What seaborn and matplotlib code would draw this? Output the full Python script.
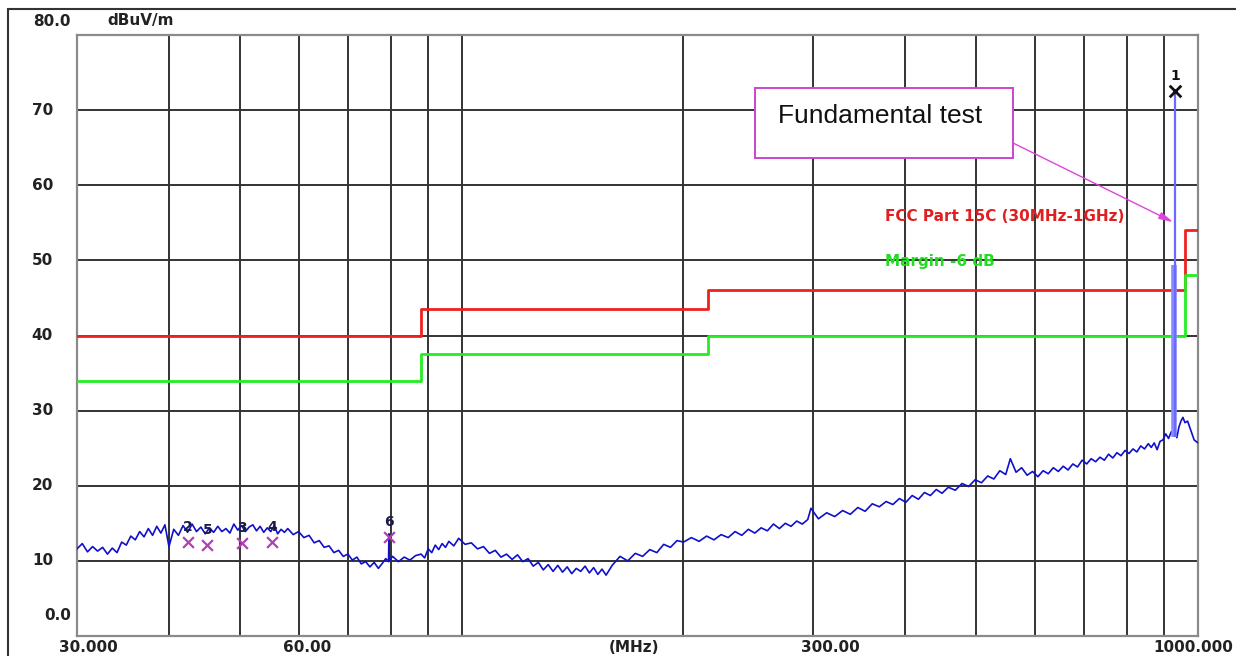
import matplotlib
matplotlib.use("Agg")
import matplotlib.pyplot as plt
import matplotlib.transforms as mtransforms
from matplotlib.patches import Rectangle
import seaborn as sns

# Scan trace (MHz / dBuV/m)
trace_freq = [
    30.0, 30.5, 31.0, 31.5, 32.0, 32.5, 33.0, 33.5, 34.0, 34.5,
    35.0, 35.5, 36.0, 36.5, 37.0, 37.5, 38.0, 38.5, 39.0, 39.5,
    40.0, 40.6, 41.2, 41.8, 42.4, 43.0, 43.6, 44.2, 44.8, 45.4,
    46.0, 46.6, 47.2, 47.8, 48.4, 49.0, 49.6, 50.2, 50.8, 51.4,
    52.0, 52.6, 53.2, 53.8, 54.4, 55.0, 55.6, 56.2, 56.8, 57.4,
    58, 59, 60, 61, 62, 63, 64, 65, 66, 67,
    68, 69, 70, 71, 72, 73, 74, 75, 76, 77,
    78, 78.8, 79.5, 79.6, 79.7, 80.5, 82, 83.5, 85, 86.5,
    88, 89, 90, 91, 92, 93, 94, 95, 96, 97.5,
    99, 101, 103, 105, 107, 109, 111, 113, 115, 117,
    119, 121, 123, 125, 127, 129, 131, 133, 135, 137,
    139, 141, 143, 145, 147, 149, 151, 153, 155, 157,
    160, 164, 168, 172, 176, 180, 184, 188, 192, 196,
    200, 205, 210, 215, 220, 225, 230, 235, 240, 245,
    250, 255, 260, 265, 270, 275, 280, 285, 290, 295,
    298, 305, 313, 321, 329, 337, 345, 353, 361, 369,
    377, 385, 393, 401, 409, 417, 425, 433, 441, 449,
    458, 468, 478, 488, 498, 508, 518, 528, 538, 548,
    556, 566, 576, 586, 596, 606, 616, 626, 636, 646,
    656, 666, 676, 686, 696, 706, 716, 726, 736, 746,
    756, 766, 776, 786, 796, 806, 816, 826, 836, 846,
    856, 864, 872, 880, 888, 896, 904, 912, 920, 926,
    930, 936, 942, 948, 954, 960, 968, 976, 988, 1000,
]
trace_level = [
    11.6, 12.3, 11.2, 11.9, 11.3, 11.8, 10.9, 11.7, 11.1, 12.5,
    12.1, 13.3, 12.8, 13.9, 13.2, 14.3, 13.4, 14.6, 13.7, 14.8,
    11.9, 14.2, 13.4, 14.7, 13.8, 14.9, 13.9, 14.5, 13.6, 14.4,
    13.8, 14.6, 13.9, 14.3, 13.7, 14.9, 14.1, 14.7, 13.9, 14.5,
    14.8, 14.0, 14.6, 13.8, 14.4, 13.9, 14.7, 13.6, 14.2, 13.8,
    14.3, 13.5, 13.9, 13.1, 13.4, 12.4, 12.7, 11.8, 12.0, 11.1,
    11.4, 10.6, 10.9, 10.1, 10.5, 9.6, 9.9, 9.2, 9.8, 9.0,
    9.7, 10.3, 9.9, 13.6, 10.0, 10.6, 9.9, 10.5, 10.1, 10.7,
    10.9, 10.4, 11.6, 11.1, 12.1, 11.5, 12.3, 11.8, 12.6, 12.0,
    13.0, 12.2, 12.4, 11.6, 11.9, 11.0, 11.4, 10.5, 10.9, 10.2,
    10.8, 9.9, 10.3, 9.3, 9.8, 8.8, 9.5, 8.6, 9.4, 8.5,
    9.2, 8.3, 9.0, 8.6, 9.3, 8.4, 9.1, 8.2, 8.9, 8.1,
    9.4, 10.6, 10.0, 11.0, 10.6, 11.5, 11.1, 12.2, 11.8, 12.7,
    12.5, 13.1, 12.6, 13.3, 12.8, 13.5, 13.1, 13.9, 13.4, 14.2,
    13.7, 14.4, 14.0, 14.9, 14.3, 15.0, 14.6, 15.3, 14.9, 15.5,
    17.0, 15.6, 16.4, 15.9, 16.7, 16.2, 17.1, 16.6, 17.6, 17.2,
    17.9, 17.5, 18.3, 17.8, 18.7, 18.2, 19.1, 18.7, 19.5, 19.0,
    19.8, 19.4, 20.3, 19.9, 20.8, 20.4, 21.3, 20.9, 22.0, 21.5,
    23.6, 21.8, 22.4, 21.4, 21.9, 21.2, 22.0, 21.6, 22.4, 21.9,
    22.6, 22.1, 22.9, 22.5, 23.4, 22.9, 23.6, 23.2, 23.8, 23.4,
    24.2, 23.7, 24.4, 24.0, 24.7, 24.3, 24.9, 24.5, 25.3, 24.9,
    25.6, 25.1, 25.7, 24.8, 25.9, 26.1, 26.9, 26.3, 27.2, 26.8,
    27.3, 26.4, 27.8, 28.6, 29.1, 28.4, 28.6, 27.6, 26.1, 25.7,
]

# FCC Part 15C limit and the -6 dB margin line
limit_freq = [30, 88, 216, 960, 1000]
limit_level = [40, 43.5, 46, 54, 54]
margin_level = [34, 37.5, 40, 48, 48]

# fundamental carrier
peak_freq = 931
peak_level = 72.5
peak_band_top = 49.4
peak_floor = 26.5

# marked spurious points
marker_ids = ["2", "5", "3", "4", "6"]
marker_freq = [42.4, 45.1, 50.3, 55.2, 79.7]
marker_level = [12.5, 12.1, 12.4, 12.5, 13.2]

y_ticks = [0, 10, 20, 30, 40, 50, 60, 70, 80]
y_tick_labels = ["0.0", "10", "20", "30", "40", "50", "60", "70", "80.0"]
x_ticks = [30, 60, 300, 1000]
x_tick_labels = ["30.000", "60.00", "300.00", "1000.000"]
grid_freq = [30, 40, 50, 60, 70, 80, 90, 100, 200, 300, 400, 500, 600, 700, 800, 900, 1000]

sns.set_theme(style="white")
plt.rcParams["font.family"] = ["DejaVu Sans"]

W, H = 1236, 656
fig = plt.figure(figsize=(W / 100, H / 100), dpi=100)
fig.patch.set_facecolor("white")
ax = fig.add_axes([77 / W, 20 / H, 1121 / W, 601 / H])
ax.set_xscale("log")
ax.set_xlim(30, 1000)
ax.set_ylim(0, 80)
ax.xaxis.set_major_locator(matplotlib.ticker.NullLocator())
ax.xaxis.set_minor_locator(matplotlib.ticker.NullLocator())
ax.yaxis.set_major_locator(matplotlib.ticker.NullLocator())
for s in ax.spines.values():
    s.set_color("#8a8a8a")
    s.set_linewidth(1.6)

# grid
ax.vlines(grid_freq[1:-1], 0, 80, color="#333333", lw=1.4, zorder=1)
ax.hlines(y_ticks[1:-1], 30, 1000, color="#333333", lw=1.4, zorder=1)

# limit lines
sns.lineplot(x=limit_freq, y=limit_level, ax=ax, color="#ee2020", lw=2.0,
             drawstyle="steps-post", sort=False, estimator=None, zorder=3)
sns.lineplot(x=limit_freq, y=margin_level, ax=ax, color="#22ee22", lw=2.0,
             drawstyle="steps-post", sort=False, estimator=None, zorder=3)

# trace
sns.lineplot(x=trace_freq, y=trace_level, ax=ax, color="#1010cc", lw=1.2,
             sort=False, estimator=None, zorder=4)

# fundamental spike
ax.vlines(peak_freq - 2, peak_floor, peak_band_top, color="#8a8aff", lw=4, zorder=4)
ax.vlines(peak_freq, peak_floor, peak_level, color="#6a6aff", lw=1.6, zorder=5)

# markers
sns.scatterplot(x=marker_freq, y=marker_level, ax=ax, marker="x", color="#b040b0",
                s=60, linewidth=1.6, zorder=6)
for mid, f, lv in zip(marker_ids, marker_freq, marker_level):
    ax.annotate(mid, (f, lv), xytext=(0, 6), textcoords="offset points", ha="center",
                va="bottom", fontsize=10, fontweight="bold", color="#1a1a4a", zorder=7)
sns.scatterplot(x=[peak_freq], y=[peak_level], ax=ax, marker="x", color="#111111",
                s=70, linewidth=2, zorder=6)
ax.annotate("1", (peak_freq, peak_level), xytext=(0, 6), textcoords="offset points",
            ha="center", va="bottom", fontsize=10, fontweight="bold", color="#111111")

# limit labels
ax.text(376, 55.8, "FCC Part 15C (30MHz-1GHz)", color="#e02020", fontsize=11,
        fontweight="bold", ha="left", va="center")
ax.text(376, 49.8, "Margin -6 dB", color="#22dd22", fontsize=11,
        fontweight="bold", ha="left", va="center")

# axis labels drawn as text
ytrans = mtransforms.blended_transform_factory(ax.transAxes, ax.transData)
for v, lab in zip(y_ticks, y_tick_labels):
    if lab in ("0.0", "80.0"):
        dx, dy = -6, (20 if v == 0 else 13)
    else:
        dx, dy = -24, 0
    ax.text(0, v, lab, transform=mtransforms.offset_copy(ytrans, fig=fig, x=dx, y=dy, units="dots"),
            ha="right", va="center", fontsize=11, fontweight="bold", color="#222222")

xtrans = mtransforms.blended_transform_factory(ax.transData, ax.transAxes)
x_offsets = [11, 9, 17, -5]
for f, lab, dx in zip(x_ticks, x_tick_labels, x_offsets):
    ax.text(f, 0, lab, transform=mtransforms.offset_copy(xtrans, fig=fig, x=dx, y=-4, units="dots"),
            ha="center", va="top", fontsize=11, fontweight="bold", color="#222222")
ax.text(0.5, 0, "(MHz)", transform=mtransforms.offset_copy(ax.transAxes, fig=fig, x=-3, y=-4, units="dots"),
        ha="center", va="top", fontsize=11, fontweight="bold", color="#222222")
fig.text(107 / W, 1 - 20 / H, "dBuV/m", ha="left", va="center", fontsize=11,
         fontweight="bold", color="#222222")

# outer frame (cut by the screenshot on the right and bottom)
fig.add_artist(Rectangle((8 / W, -0.1), 1.2, 1.1 - 9 / H, transform=fig.transFigure,
                         fill=False, ec="#333333", lw=1.5))

# callout box
fig.add_artist(Rectangle((755 / W, 1 - 158 / H), 258 / W, 70 / H, transform=fig.transFigure,
                         fc="white", ec="#cc44cc", lw=1.4, zorder=8))
fig.text(778 / W, 1 - 116 / H, "Fundamental test", ha="left", va="center", fontsize=19,
         family="Liberation Sans", color="#111111", zorder=9)
ax.annotate("", xy=(peak_freq - 6, 55.1), xycoords="data",
            xytext=(1013 / W, 1 - 143 / H), textcoords="figure fraction",
            arrowprops=dict(arrowstyle="-|>,head_length=0.7,head_width=0.18", color="#dd44dd",
                            lw=1.0, shrinkA=0, shrinkB=0), zorder=9)

fig.savefig("out.png", dpi=100, facecolor="white")
